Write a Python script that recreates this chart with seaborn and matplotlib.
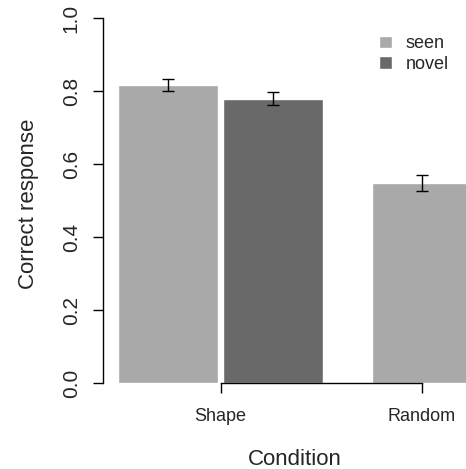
import matplotlib
matplotlib.use("Agg")
import matplotlib.pyplot as plt
import seaborn as sns
import pandas as pd

# valores
condicoes = ["Shape", "Shape", "Random"]
estimulos = ["seen", "novel", "seen"]
respostas = [0.817, 0.779, 0.548]
erros = [0.016, 0.018, 0.021]

cores = {"seen": "#A9A9A9", "novel": "#696969"}

# layout das barras (estilo barplot do R)
largura = 1.0
espaco_par = 0.05
espaco_grupo = 0.49

posicoes = []
x = 0.0
for i, cond in enumerate(condicoes):
    if i > 0:
        x += largura + (espaco_par if cond == condicoes[i - 1] else espaco_grupo)
    posicoes.append(x)

ticks_x = []
for cond in dict.fromkeys(condicoes):
    ps = [p for p, c in zip(posicoes, condicoes) if c == cond]
    ticks_x.append(sum(ps) / len(ps))

df = pd.DataFrame({"pos": posicoes, "resposta": respostas,
                   "estimulo": estimulos, "erro": erros})

sns.set_style("ticks")
plt.rcParams["font.family"] = ["Liberation Sans", "DejaVu Sans"]

fig = plt.figure(figsize=(4.66, 4.69), dpi=100)
ax = fig.add_axes([103 / 466, 86 / 469, 363 / 466, 365 / 469])

menor_dist = min(b - a for a, b in zip(posicoes[:-1], posicoes[1:]))
sns.barplot(data=df, x="pos", y="resposta", hue="estimulo", palette=cores,
            native_scale=True, dodge=False, width=largura / menor_dist,
            errorbar=None, saturation=1, ax=ax)

ax.errorbar(df["pos"], df["resposta"], yerr=df["erro"], fmt="none",
            ecolor="black", elinewidth=1, capsize=4.3, capthick=1)

ax.set_xlim(-0.65, 2.98)
ax.set_ylim(0, 1)

ax.set_yticks([0.0, 0.2, 0.4, 0.6, 0.8, 1.0])
ax.set_yticklabels(["0.0", "0.2", "0.4", "0.6", "0.8", "1.0"],
                   rotation=90, va="center", fontsize=15)
ax.set_xticks(ticks_x)
ax.set_xticklabels(list(dict.fromkeys(condicoes)), fontsize=13)
ax.tick_params(axis="both", length=7, width=1, color="black")
ax.tick_params(axis="y", pad=9)
ax.tick_params(axis="x", pad=11)

for lado in ["top", "right"]:
    ax.spines[lado].set_visible(False)
ax.spines["left"].set_bounds(0, 1)
ax.spines["bottom"].set_bounds(ticks_x[0], ticks_x[-1])
for lado in ["left", "bottom"]:
    ax.spines[lado].set_color("black")
    ax.spines[lado].set_linewidth(1)

ax.set_xlabel("Condition", fontsize=16)
ax.set_ylabel("Correct response", fontsize=16)
ax.xaxis.set_label_coords(0.529, -0.18)
ax.yaxis.set_label_coords(-0.175, 0.49)

handles, labels = ax.get_legend_handles_labels()
ax.legend(handles, labels, loc="upper left", bbox_to_anchor=(0.716, 0.997),
          frameon=False, fontsize=13, handlelength=0.7, handleheight=0.7,
          handletextpad=0.75, labelspacing=0.2)

fig.savefig("out.png", dpi=100)
